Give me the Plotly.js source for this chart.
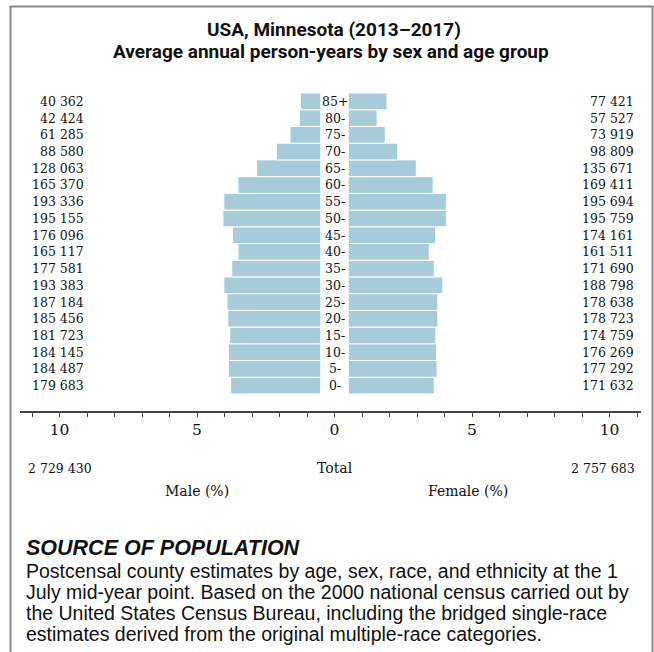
<!DOCTYPE html>
<html>
<head>
<meta charset="utf-8">
<script src="https://cdn.plot.ly/plotly-3.0.1.min.js"></script>
<style>
html,body{margin:0;padding:0;background:#fff;}
#chart{width:654px;height:652px;}
</style>
</head>
<body>
<div id="chart"></div>
<script>
// ---- data (bottom to top) ----
const ageGroups = ['0-','5-','10-','15-','20-','25-','30-','35-','40-','45-','50-','55-','60-','65-','70-','75-','80-','85+'];
const maleCounts = [179683,184487,184145,181723,185456,187184,193383,177581,165117,176096,195155,193336,165370,128063,88580,61285,42424,40362];
const femaleCounts = [171632,177292,176269,174759,178723,178638,188798,171690,161511,174161,195759,195694,169411,135671,98809,73919,57527,77421];
const totals = [2729430, 2757683]; // male, female (as printed)
const xTickVals = [-10,-5,0,5,10];
const xTickText = ['10','5','0','5','10'];
const titleLine1 = 'USA, Minnesota (2013–2017)';
const titleLine2 = 'Average annual person-years by sex and age group';
const sourceHead = 'SOURCE OF POPULATION';
const sourceLines = [
  'Postcensal county estimates by age, sex, race, and ethnicity at the 1',
  'July mid-year point. Based on the 2000 national census carried out by',
  'the United States Census Bureau, including the bridged single-race',
  'estimates derived from the original multiple-race categories.'
];

// ---- derived ----
const grand = totals[0] + totals[1];
const fmt = n => String(n).replace(/\B(?=(\d{3})+(?!\d))/g, ' ');
const malePct = maleCounts.map(v => v / grand * 100);
const femalePct = femaleCounts.map(v => v / grand * 100);
const GAP = 0.5;

const W = 654, H = 652;
const M = {l:20, r:13, t:85, b:241};
const PW = W - M.l - M.r, PH = H - M.t - M.b;
const px = x => (x - M.l) / PW;
const py = y => (H - M.b - y) / PH;

const serif = 'DejaVu Serif';
const sans = 'Liberation Sans';
const ink = '#111';
const barColor = '#a7cbd9';

const traces = [
  {type:'bar', orientation:'h', y:ageGroups, x:malePct.map(v=>-v), base:-GAP,
   marker:{color:barColor, line:{color:'#ffffff', width:1}}, hoverinfo:'skip', name:'Male'},
  {type:'bar', orientation:'h', y:ageGroups, x:femalePct, base:GAP,
   marker:{color:barColor, line:{color:'#ffffff', width:1}}, hoverinfo:'skip', name:'Female'}
];

const ann = [];
ageGroups.forEach((g,i) => {
  ann.push({x:0, y:g, xref:'x', yref:'y', text:g, showarrow:false, xanchor:'center', yanchor:'middle',
    font:{family:serif, size:12.5, color:ink}});
  ann.push({x:px(86), y:g, xref:'paper', yref:'y', text:fmt(maleCounts[i]), showarrow:false, xanchor:'right', yanchor:'middle',
    font:{family:serif, size:12.5, color:ink}});
  ann.push({x:px(636), y:g, xref:'paper', yref:'y', text:fmt(femaleCounts[i]), showarrow:false, xanchor:'right', yanchor:'middle',
    font:{family:serif, size:12.5, color:ink}});
});
ann.push({x:px(331), y:py(51.5), xref:'paper', yref:'paper', text:'<b>'+titleLine2+'</b>', showarrow:false, xanchor:'center', yanchor:'middle',
  font:{family:'Roboto', size:19, color:ink}});
ann.push({x:px(26), y:py(468), xref:'paper', yref:'paper', text:fmt(totals[0]), showarrow:false, xanchor:'left', yanchor:'middle', font:{family:serif, size:12.5, color:ink}});
ann.push({x:0, y:py(468), xref:'x', yref:'paper', text:'Total', showarrow:false, xanchor:'center', yanchor:'middle', font:{family:serif, size:14, color:ink}});
ann.push({x:px(637), y:py(468), xref:'paper', yref:'paper', text:fmt(totals[1]), showarrow:false, xanchor:'right', yanchor:'middle', font:{family:serif, size:12.5, color:ink}});
ann.push({x:-5, y:py(491), xref:'x', yref:'paper', text:'Male (%)', showarrow:false, xanchor:'center', yanchor:'middle', font:{family:serif, size:14, color:ink}});
ann.push({x:4.85, y:py(491), xref:'x', yref:'paper', text:'Female (%)', showarrow:false, xanchor:'center', yanchor:'middle', font:{family:serif, size:14, color:ink}});
ann.push({x:px(24), y:py(548), xref:'paper', yref:'paper', text:'<b><i>'+sourceHead+'</i></b>', showarrow:false, xanchor:'left', yanchor:'middle', font:{family:sans, size:21.5, color:ink}});
sourceLines.forEach((t,i)=>{
  ann.push({x:px(24), y:py(571 + i*21), xref:'paper', yref:'paper', text:t, showarrow:false, xanchor:'left', yanchor:'middle', font:{family:sans, size:19.5, color:ink}});
});

const frame = {type:'path', xref:'paper', yref:'paper',
  path:`M ${px(10.5)} ${py(660)} L ${px(10.5)} ${py(6.5)} L ${px(652.5)} ${py(6.5)} L ${px(652.5)} ${py(660)}`,
  line:{color:'#888888', width:2}};

const layout = {
  width:W, height:H, margin:M, paper_bgcolor:'#fff', plot_bgcolor:'#fff',
  showlegend:false, barmode:'overlay', bargap:0,
  title:{text:'<b>'+titleLine1+'</b>', x:px(334), xref:'paper', xanchor:'center', y:1-29/H, yref:'container', yanchor:'middle',
    font:{family:'Roboto', size:19, color:ink}},
  xaxis:{range:[-(334.5-20)/27.5, (641-334.5)/27.5], tickmode:'array', tickvals:xTickVals, ticktext:xTickText,
    ticks:'outside', ticklen:4, tickcolor:'#444', showgrid:false, zeroline:false, showline:true, linecolor:'#444', linewidth:1.5,
    tickfont:{family:serif, size:15.5, color:ink},
    minor:{tickmode:'linear', tick0:0, dtick:1, ticks:'outside', ticklen:4, tickcolor:'#444', showgrid:false},
    fixedrange:true},
  yaxis:{type:'category', range:[-1.52, 17.98], showticklabels:false, ticks:'', showgrid:false, zeroline:false, showline:false, fixedrange:true},
  annotations:ann,
  shapes:[frame]
};

Plotly.newPlot('chart', traces, layout, {displayModeBar:false, staticPlot:true});
</script>
</body>
</html>
